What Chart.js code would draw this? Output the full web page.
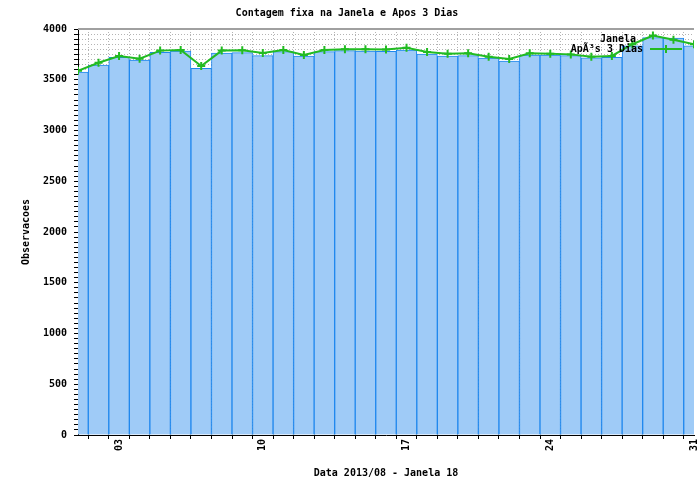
<!DOCTYPE html>
<html>
<head>
<meta charset="utf-8">
<script src="https://cdn.jsdelivr.net/npm/chart.js@4/dist/chart.umd.min.js"></script>
<style>
  body { margin: 0; background: #fff; }
  #chart { display: block; }
</style>
</head>
<body>
<canvas id="chart" width="697" height="483"></canvas>
<script>
// days of 2013/08
var days = [1, 2, 3, 4, 5, 6, 7, 8, 9, 10, 11, 12, 13, 14, 15, 16,
            17, 18, 19, 20, 21, 22, 23, 24, 25, 26, 27, 28, 29, 30, 31];

// contagem na janela (bars)
var janela = [3575, 3645, 3720, 3695, 3770, 3783, 3612, 3763, 3767, 3737, 3777,
              3734, 3777, 3787, 3783, 3780, 3793, 3754, 3734, 3737, 3714, 3685,
              3744, 3744, 3737, 3717, 3720, 3835, 3915, 3910, 3833];

// contagem apos 3 dias (line)
var apos3 = [3589, 3668, 3734, 3708, 3787, 3793, 3635, 3787, 3790, 3764, 3793,
             3744, 3793, 3800, 3800, 3797, 3816, 3773, 3757, 3760, 3727, 3704,
             3760, 3757, 3750, 3727, 3735, 3850, 3935, 3895, 3849];

var labeledDays = [3, 10, 17, 24, 31];
var seriesNames = ["Janela", "ApÃ³s 3 Dias"];

var monoFont = "'DejaVu Sans Mono', 'Liberation Mono', monospace";
Chart.defaults.font.family = monoFont;
Chart.defaults.font.size = 10;
Chart.defaults.font.weight = "bold";
Chart.defaults.color = "#000";

var barFill = "#9fcbf7";
var green = "#22bb22";

function pad2(n) {
    return n < 10 ? "0" + n : "" + n;
}

// gray top border + gnuplot style key
var extrasPlugin = {
    id: "extras",
    afterDatasetsDraw: function(chart) {
        var ctx = chart.ctx;
        var a = chart.chartArea;
        ctx.save();
        ctx.strokeStyle = "#a0a0a0";
        ctx.lineWidth = 2;
        ctx.beginPath();
        ctx.moveTo(a.left, a.top);
        ctx.lineTo(a.right, a.top);
        ctx.stroke();

        ctx.font = "bold 10px " + monoFont;
        ctx.fillStyle = "#000";
        ctx.textAlign = "right";
        ctx.textBaseline = "middle";
        var textX = a.right - 51;
        ctx.fillText(seriesNames[0], textX - 7, a.top + 10);
        ctx.fillText(seriesNames[1], textX, a.top + 20);

        // sample for the line series
        var sx0 = a.right - 44, sx1 = a.right - 12, sy = a.top + 20;
        ctx.strokeStyle = green;
        ctx.lineWidth = 2;
        ctx.beginPath();
        ctx.moveTo(sx0, sy);
        ctx.lineTo(sx1, sy);
        ctx.moveTo((sx0 + sx1) / 2 - 4, sy);
        ctx.lineTo((sx0 + sx1) / 2 + 4, sy);
        ctx.moveTo((sx0 + sx1) / 2, sy - 4);
        ctx.lineTo((sx0 + sx1) / 2, sy + 4);
        ctx.stroke();
        ctx.restore();
    }
};

var ctx = document.getElementById("chart").getContext("2d");
var chart = new Chart(ctx, {
    type: "bar",
    plugins: [extrasPlugin],
    data: {
        datasets: [{
            type: "line",
            label: seriesNames[1],
            data: days.map(function(d, i) { return { x: d, y: apos3[i] }; }),
            borderColor: green,
            borderWidth: 2,
            pointStyle: "cross",
            pointRadius: 4,
            pointBorderWidth: 2,
            pointBorderColor: green,
            tension: 0,
            order: 1
        }, {
            type: "bar",
            label: seriesNames[0],
            data: days.map(function(d, i) { return { x: d, y: janela[i] }; }),
            backgroundColor: barFill,
            borderColor: "#2088ee",
            borderWidth: 1,
            barPercentage: 1,
            categoryPercentage: 1,
            order: 2
        }]
    },
    options: {
        responsive: false,
        animation: false,
        devicePixelRatio: 1,
        layout: {
            autoPadding: false,
            padding: { left: 0, right: 3, top: 0, bottom: 0 }
        },
        plugins: {
            legend: { display: false },
            tooltip: { enabled: false },
            title: {
                display: true,
                text: "Contagem fixa na Janela e Apos 3 Dias",
                font: { size: 10, weight: "bold" },
                color: "#000",
                padding: { top: 7, bottom: 10 }
            }
        },
        scales: {
            x: {
                type: "linear",
                min: 1,
                max: 31,
                offset: false,
                afterFit: function(scale) {
                    scale.height = 48;
                    scale.paddingLeft = 0;
                    scale.paddingRight = 0;
                },
                ticks: {
                    stepSize: 1,
                    autoSkip: false,
                    minRotation: 90,
                    maxRotation: 90,
                    padding: 0,
                    callback: function(v) {
                        return labeledDays.indexOf(v) >= 0 ? pad2(v) : "";
                    }
                },
                grid: {
                    color: "#b4b4b4",
                    lineWidth: 1,
                    tickLength: 4,
                    tickColor: "#000"
                },
                border: { color: "#000", width: 1, dash: [1, 2] },
                title: {
                    display: true,
                    text: "Data 2013/08 - Janela 18",
                    font: { size: 10, weight: "bold" },
                    padding: { top: 0, bottom: 4 }
                }
            },
            y: {
                min: 0,
                max: 4000,
                afterFit: function(scale) {
                    scale.width = 78;
                    scale.paddingTop = 0;
                    scale.paddingBottom = 0;
                },
                ticks: {
                    stepSize: 50,
                    autoSkip: false,
                    padding: 7,
                    callback: function(v) {
                        return v % 500 === 0 ? v : "";
                    }
                },
                grid: {
                    color: "#b4b4b4",
                    lineWidth: 1,
                    tickLength: 4,
                    tickColor: "#000"
                },
                border: { color: "#000", width: 1, dash: [1, 2] },
                title: {
                    display: true,
                    text: "Observacoes",
                    font: { size: 10, weight: "bold" },
                    padding: { top: 20, bottom: 0 }
                }
            }
        }
    }
});
</script>
</body>
</html>
